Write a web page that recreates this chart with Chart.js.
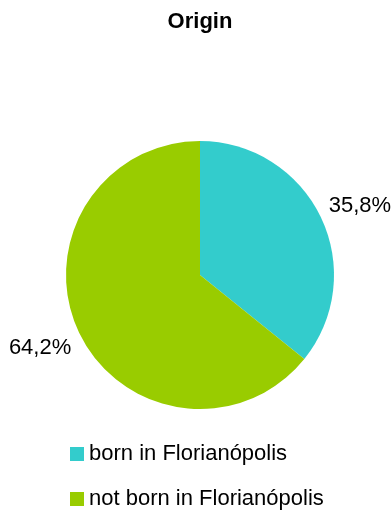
<!DOCTYPE html>
<html><head><meta charset="utf-8">
<style>html,body{margin:0;padding:0;background:#fff}#wrap{width:392px;height:510px}</style>
<script src="https://cdn.jsdelivr.net/npm/chart.js@4/dist/chart.umd.min.js"></script>
</head><body><div id="wrap"><canvas id="c" width="392" height="510"></canvas></div>
<script>
const title = "Origin";
const categories = ["born in Florianópolis", "not born in Florianópolis"];
const values = [35.8, 64.2];
const valueLabels = ["35,8%", "64,2%"];
const colors = ["#33CCCC", "#99CC00"];

const FONT = "'Liberation Sans', Arial, sans-serif";

const overlay = {
  id: 'overlay',
  afterDraw(chart) {
    const ctx = chart.ctx;
    ctx.save();
    ctx.fillStyle = '#000';
    ctx.font = "bold 22px " + FONT;
    ctx.textAlign = 'center';
    ctx.textBaseline = 'alphabetic';
    ctx.fillText(title, 200, 28);
    const meta = chart.getDatasetMeta(0);
    ctx.font = "22px " + FONT;
    meta.data.forEach((arc, i) => {
      const mid = (arc.startAngle + arc.endAngle) / 2 + 0.028;
      const r = arc.outerRadius + 41;
      const x = arc.x + Math.cos(mid) * r;
      const y = arc.y + Math.sin(mid) * r;
      ctx.textAlign = 'center';
      ctx.fillText(valueLabels[i], x, y + 8);
    });
    // legend
    categories.forEach((cat, i) => {
      const base = 460 + i * 45;
      ctx.fillStyle = colors[i];
      ctx.fillRect(70, base - 13, 14, 14);
      ctx.fillStyle = '#000';
      ctx.textAlign = 'left';
      ctx.fillText(cat, 89, base);
    });
    ctx.restore();
  }
};

new Chart(document.getElementById('c'), {
  type: 'pie',
  data: {
    labels: categories,
    datasets: [{ data: values, backgroundColor: colors, borderWidth: 0 }]
  },
  options: {
    responsive: false,
    animation: false,
    layout: { padding: { top: 141, bottom: 101, left: 66, right: 58 } },
    plugins: { legend: { display: false }, title: { display: false }, tooltip: { enabled: false } }
  },
  plugins: [overlay]
});
</script></body></html>
